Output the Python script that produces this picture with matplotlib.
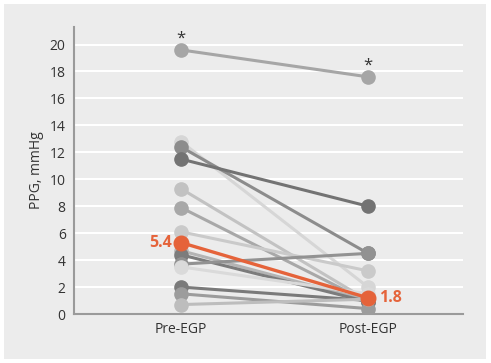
import numpy as np
import matplotlib
matplotlib.use('Agg')
import matplotlib.pyplot as plt
from matplotlib.patches import Rectangle

plt.rcParams['font.family'] = ['Open Sans', 'DejaVu Sans']

groups = ['Pre-EGP', 'Post-EGP']
pre = [19.6, 12.8, 12.4, 11.5, 9.3, 7.9, 6.1, 4.7, 4.4, 3.7, 3.5, 2.0, 1.5, 0.7]
post = [17.6, 2.0, 4.5, 8.0, 1.0, 0.9, 3.2, 1.0, 0.9, 4.5, 1.5, 1.0, 0.4, 1.1]
colors = ['#a6a6a6', '#d6d6d6', '#8c8c8c', '#737373', '#c2c2c2', '#a8a8a8', '#cacaca',
          '#b4b4b4', '#7c7c7c', '#929292', '#dadada', '#7a7a7a', '#9c9c9c', '#bdbdbd']
median_pre, median_post = 5.3, 1.2
median_labels = ['5.4', '1.8']
orange = '#e5633a'

fig = plt.figure(figsize=(4.91, 3.63), dpi=100)
fig.patches.append(Rectangle((4 / 491, 4 / 363), 482 / 491, 355 / 363,
                             transform=fig.transFigure, facecolor='#ececec',
                             edgecolor='none', zorder=-10))
ax = fig.add_axes([74 / 491, 49 / 363, 389 / 491, 287 / 363])
ax.set_facecolor('none')

x = [0, 1]
for a, b, c in zip(pre, post, colors):
    ax.plot(x, [a, b], color=c, lw=2.2, marker='o', ms=9.5, zorder=3)
ax.plot(x, [median_pre, median_post], color=orange, lw=2.4, marker='o', ms=10.5, zorder=4)
ax.text(-0.05, median_pre, median_labels[0], color=orange, fontsize=11.5, fontweight='bold',
        ha='right', va='center')
ax.text(1.06, median_post, median_labels[1], color=orange, fontsize=11.5, fontweight='bold',
        ha='left', va='center')
ax.text(0, pre[0] + 0.85, '*', fontsize=12, ha='center', va='center', color='#333333')
ax.text(1, post[0] + 0.85, '*', fontsize=12, ha='center', va='center', color='#333333')

ax.set_xlim(-0.572, 1.508)
ax.set_ylim(0, 21.3)
ax.set_yticks(np.arange(0, 21, 2))
ax.set_xticks(x)
ax.set_xticklabels(groups)
ax.grid(axis='y', color='white', lw=1.5, zorder=1)
ax.set_axisbelow(True)
ax.tick_params(length=0, labelsize=10, colors='#333333', pad=6)
ax.set_ylabel('PPG, mmHg', fontsize=10, color='#333333', labelpad=4)
for s in ['top', 'right']:
    ax.spines[s].set_visible(False)
for s in ['left', 'bottom']:
    ax.spines[s].set_color('#9a9a9a')
    ax.spines[s].set_linewidth(1.5)

fig.savefig('out.png', dpi=100)
